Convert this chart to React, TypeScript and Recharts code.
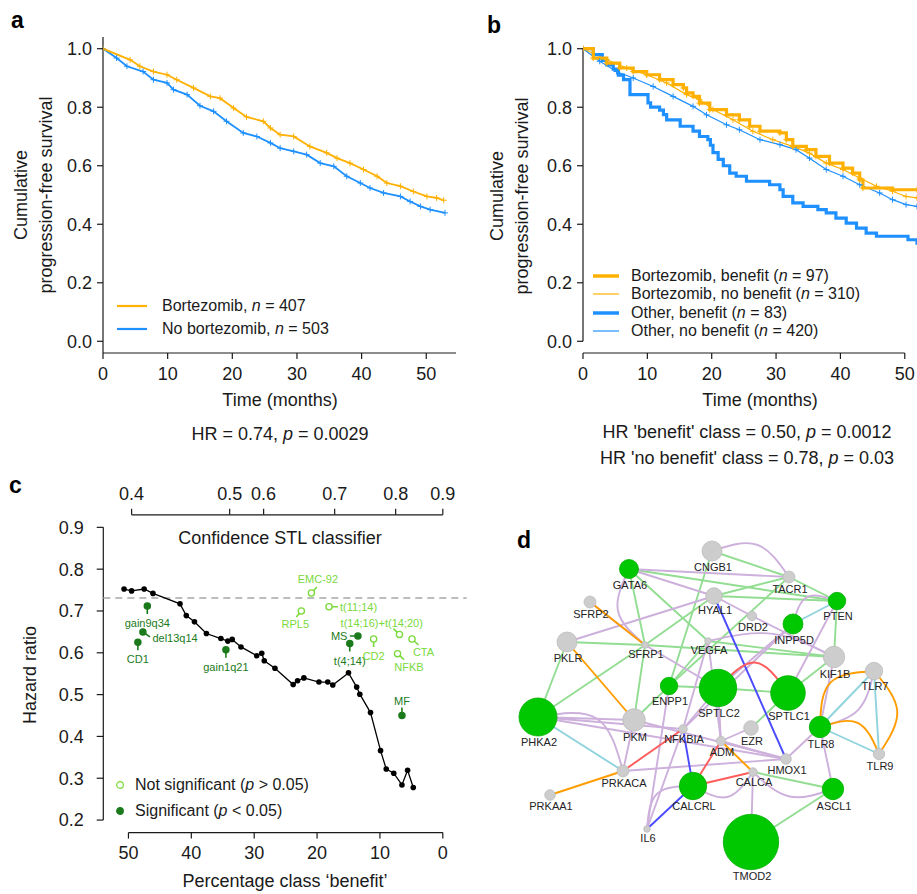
import React from 'react';
import {
  LineChart,
  ComposedChart,
  Line,
  Scatter,
  XAxis,
  YAxis,
  ReferenceLine,
  Legend,
} from 'recharts';

const FONT = '"Liberation Sans", Arial, Helvetica, sans-serif';
const INK = '#1a1a1a';
const ORANGE = '#ffb000';
const BLUE = '#1e90ff';
const DARK = '#1b7a1b';
const LIGHT = '#7ad93b';

// ---------- panel a: PFS, bortezomib vs not ----------
const aBortT = [0, 4.2, 5.7, 7.8, 9.9, 11.4, 14, 16.6, 18.1, 20.2, 22.2, 24.8, 25.9, 27.4, 29.5, 32, 34.6, 36.2, 38.2, 40.3, 42.4, 43.9, 46, 48, 50.1, 51.6, 52.7];
const aBortS = [1, 0.962, 0.94, 0.922, 0.911, 0.894, 0.866, 0.837, 0.831, 0.797, 0.767, 0.752, 0.729, 0.706, 0.7, 0.666, 0.644, 0.626, 0.609, 0.587, 0.564, 0.541, 0.53, 0.512, 0.495, 0.49, 0.482];
const aOtherT = [0, 2.1, 3.7, 6.2, 7.8, 9.9, 10.9, 13, 15, 17.1, 19.1, 21.7, 23.8, 25.9, 27.4, 29.5, 31.5, 33.6, 35.7, 37.7, 39.8, 41.3, 43.4, 46, 47.5, 49.1, 50.6, 52.9];
const aOtherS = [1, 0.968, 0.94, 0.922, 0.894, 0.883, 0.86, 0.843, 0.805, 0.786, 0.752, 0.712, 0.7, 0.678, 0.66, 0.649, 0.638, 0.609, 0.598, 0.564, 0.541, 0.524, 0.507, 0.495, 0.478, 0.461, 0.45, 0.439];
const aLegendNames = ['Bortezomib', 'No bortezomib'];
const aLegendN = [407, 503];

// ---------- panel b: split by benefit class ----------
const bBortBenT = [0, 1.6, 3.7, 5.7, 7.8, 9.9, 11.9, 14, 15.6, 16.1, 17.1, 18.1, 19.7, 22.3, 24.3, 25.9, 27.5, 30.6, 31.6, 32.6, 34.7, 36.2, 38.3, 40.4, 41.9, 43, 43.5, 48.1, 51.9];
const bBortBenS = [1, 0.968, 0.951, 0.934, 0.922, 0.911, 0.894, 0.877, 0.866, 0.849, 0.837, 0.814, 0.792, 0.774, 0.757, 0.735, 0.718, 0.712, 0.689, 0.666, 0.655, 0.632, 0.609, 0.592, 0.575, 0.552, 0.524, 0.518, 0.518];
const bBortNoT = [0, 3.7, 6.8, 9.9, 13, 16.1, 18.1, 20.2, 23.3, 26.4, 29.5, 32.6, 35.2, 37.8, 40.4, 43, 45.6, 48.1, 50.2, 51.9];
const bBortNoS = [1, 0.962, 0.934, 0.911, 0.883, 0.843, 0.826, 0.792, 0.757, 0.718, 0.689, 0.666, 0.643, 0.609, 0.587, 0.558, 0.53, 0.513, 0.495, 0.49];
const bOthBenT = [0, 1.6, 3.0, 3.7, 4.7, 5.5, 6.3, 7.3, 10.1, 10.5, 11.9, 12.5, 13, 15.1, 17.1, 18.1, 19.4, 19.8, 20.2, 21, 21.8, 22.8, 23.8, 25.4, 29, 30.6, 31.1, 32.6, 34.2, 36.5, 37.8, 39.3, 40.9, 42.5, 44, 45.6, 50.5, 51.9];
const bOthBenS = [1, 0.98, 0.96, 0.945, 0.93, 0.91, 0.894, 0.843, 0.815, 0.8, 0.79, 0.775, 0.757, 0.735, 0.718, 0.7, 0.689, 0.67, 0.645, 0.622, 0.6, 0.575, 0.564, 0.547, 0.535, 0.518, 0.495, 0.473, 0.461, 0.45, 0.439, 0.421, 0.404, 0.387, 0.37, 0.359, 0.347, 0.33];
const bOthNoT = [0, 2.6, 5.2, 7.8, 10.9, 14, 17.1, 19.2, 22.3, 24.3, 27.5, 30.6, 33.1, 35.2, 37.8, 40.4, 43, 46.1, 48.1, 50.2, 51.9];
const bOthNoS = [1, 0.957, 0.922, 0.9, 0.871, 0.837, 0.803, 0.774, 0.74, 0.723, 0.689, 0.672, 0.655, 0.626, 0.587, 0.564, 0.535, 0.507, 0.484, 0.467, 0.461];
const bLegendNames = ['Bortezomib, benefit', 'Bortezomib, no benefit', 'Other, benefit', 'Other, no benefit'];
const bLegendN = [97, 310, 83, 420];

const survTicks = [0, 0.2, 0.4, 0.6, 0.8, 1];
const timeTicks = [0, 10, 20, 30, 40, 50];

// ---------- panel c: hazard ratio vs class size ----------
const cPct = [50.7, 49.5, 47.5, 46.1, 41.8, 40.8, 39.5, 37.6, 35.3, 34.2, 33.5, 32.1, 29.6, 28.8, 28.4, 26.7, 23.8, 23.1, 22.1, 19.7, 18.3, 17.5, 15.0, 13.7, 13.2, 11.5, 9.9, 9.0, 7.8, 6.5, 5.6, 4.7];
const cHR = [0.7525, 0.748, 0.7525, 0.742, 0.717, 0.689, 0.674, 0.646, 0.634, 0.628, 0.632, 0.614, 0.593, 0.599, 0.581, 0.563, 0.524, 0.533, 0.54, 0.53, 0.53, 0.523, 0.552, 0.518, 0.501, 0.457, 0.366, 0.322, 0.312, 0.284, 0.319, 0.278];
const cRefHR = 0.731;
const markerNames = ['gain9q34', 'del13q14', 'CD1', 'gain1q21', 'MS', 't(4;14)', 'MF', 'EMC-92', 'RPL5', 't(11;14)', 't(14;16)+t(14;20)', 'CD2', 'CTA', 'NFKB'];
const markerPct = [47.0, 47.7, 48.5, 34.5, 13.5, 14.8, 6.5, 20.9, 22.5, 18.1, 6.9, 11.0, 4.9, 7.2];
const markerHR = [0.712, 0.65, 0.625, 0.607, 0.64, 0.622, 0.45, 0.743, 0.7, 0.71, 0.644, 0.633, 0.633, 0.598];
const markerSig = [true, true, true, true, true, true, true, false, false, false, false, false, false, false];
const markerPos = ['S', 'SE', 'S', 'S', 'W', 'S', 'N', 'NE', 'SW', 'E', 'NW', 'S', 'SE2', 'SE2'];
const hrTicks = [0.2, 0.3, 0.4, 0.5, 0.6, 0.7, 0.8, 0.9];
const pctTicks = [50, 40, 30, 20, 10, 0];
const confTickPos = [49.5, 33.9, 28.5, 17.2, 7.5, 0];
const confTickLabels = ['0.4', '0.5', '0.6', '0.7', '0.8', '0.9'];

// ---------- panel d: gene network ----------
const nodeNames = ['CNGB1', 'GATA6', 'TACR1', 'HYAL1', 'SFRP2', 'PTEN', 'DRD2', 'INPP5D', 'PKLR', 'SFRP1', 'VEGFA', 'KIF1B', 'TLR7', 'ENPP1', 'SPTLC2', 'SPTLC1', 'PHKA2', 'PKM', 'TLR8', 'EZR', 'NFKBIA', 'ADM', 'TLR9', 'HMOX1', 'PRKACA', 'CALCA', 'ASCL1', 'CALCRL', 'PRKAA1', 'IL6', 'TMOD2'];
const nodeX = [232, 149, 309, 234, 110, 357, 272, 313, 87, 165, 228, 354, 394, 189, 238, 308, 58, 154, 340, 271, 203, 241, 399, 306, 143, 273, 353, 213, 70, 167, 271];
const nodeY = [31, 49, 57, 76, 82, 81, 96, 104, 122, 125, 121, 137, 151, 166, 168, 173, 197, 200, 207, 208, 209, 221, 234, 239, 251, 252, 269, 266, 275, 309, 322];
const nodeSize = [10, 9.5, 6, 8.3, 6, 8.7, 4.7, 10, 10, 3.3, 3.3, 10.7, 8.7, 8.7, 18.7, 17.3, 19, 11.3, 10.7, 7.3, 4.3, 4.7, 5.7, 5.3, 6, 4.3, 10.7, 13.7, 5.3, 3.3, 27.7];
const nodeHit = [false, true, false, false, false, true, false, true, false, false, false, false, false, true, true, true, true, false, true, false, false, false, false, false, false, false, true, true, false, false, true];

const edges: [string, string, string][] = [
  ['CNGB1', 'TACR1', 'g'], ['CNGB1', 'ENPP1', 'g'], ['GATA6', 'PTEN', 'g'], ['GATA6', 'VEGFA', 'g'],
  ['GATA6', 'SFRP1', 'g'], ['HYAL1', 'TACR1', 'g'], ['HYAL1', 'PTEN', 'g'], ['TACR1', 'PTEN', 'g'],
  ['TACR1', 'ENPP1', 'g'], ['SFRP1', 'HYAL1', 'g'], ['PKLR', 'SFRP1', 'g'], ['SFRP1', 'KIF1B', 'g'],
  ['VEGFA', 'KIF1B', 'g'], ['PTEN', 'KIF1B', 'g'], ['PHKA2', 'PKLR', 'g'], ['PHKA2', 'SFRP1', 'g'],
  ['SFRP1', 'PKM', 'g'], ['VEGFA', 'ENPP1', 'g'], ['ENPP1', 'PKM', 'g'], ['ENPP1', 'SPTLC2', 'g'],
  ['SPTLC2', 'SPTLC1', 'g'], ['SPTLC1', 'KIF1B', 'g'], ['SPTLC1', 'EZR', 'g'], ['CALCA', 'ASCL1', 'g'],
  ['ASCL1', 'TMOD2', 'g'],
  ['CNGB1', 'TACR1', 'l'], ['GATA6', 'TACR1', 'l'], ['GATA6', 'HYAL1', 'l'], ['GATA6', 'SFRP1', 'l'],
  ['PKLR', 'HYAL1', 'l'], ['SFRP2', 'SFRP1', 'l'], ['HYAL1', 'DRD2', 'l'], ['DRD2', 'KIF1B', 'l'],
  ['VEGFA', 'KIF1B', 'l'], ['VEGFA', 'NFKBIA', 'l'], ['VEGFA', 'ADM', 'l'], ['INPP5D', 'PTEN', 'l'],
  ['SPTLC1', 'PTEN', 'l'], ['SPTLC2', 'INPP5D', 'l'], ['NFKBIA', 'INPP5D', 'l'], ['SFRP1', 'SPTLC2', 'l'],
  ['PHKA2', 'PKM', 'l'], ['PHKA2', 'NFKBIA', 'l'], ['PHKA2', 'HMOX1', 'l'], ['PHKA2', 'PRKACA', 'l'],
  ['PKM', 'PRKACA', 'l'], ['PKM', 'HMOX1', 'l'], ['PRKACA', 'HMOX1', 'l'], ['NFKBIA', 'SPTLC2', 'l'],
  ['NFKBIA', 'IL6', 'l'], ['ENPP1', 'IL6', 'l'], ['IL6', 'CALCRL', 'l'], ['ADM', 'SPTLC2', 'l'],
  ['ADM', 'EZR', 'l'], ['ADM', 'HMOX1', 'l'], ['CALCRL', 'CALCA', 'l'], ['CALCA', 'ASCL1', 'l'],
  ['CALCA', 'TMOD2', 'l'], ['HMOX1', 'TLR8', 'l'], ['TLR8', 'KIF1B', 'l'], ['TLR8', 'ASCL1', 'l'],
  ['TLR8', 'TLR7', 'l'],
  ['SFRP2', 'SFRP1', 'o'], ['PKLR', 'PKM', 'o'], ['PRKAA1', 'PRKACA', 'o'], ['ADM', 'CALCA', 'o'],
  ['TLR8', 'TLR7', 'o'], ['TLR8', 'TLR9', 'o'], ['TLR7', 'TLR9', 'o'],
  ['PHKA2', 'PRKACA', 'c'], ['INPP5D', 'PTEN', 'c'], ['TLR8', 'TLR7', 'c'], ['TLR8', 'TLR9', 'c'], ['TLR7', 'TLR9', 'c'],
  ['HYAL1', 'HMOX1', 'b'], ['NFKBIA', 'CALCRL', 'b'], ['CALCRL', 'IL6', 'b'],
  ['SPTLC2', 'SPTLC1', 'r'], ['PRKACA', 'NFKBIA', 'r'], ['ADM', 'CALCRL', 'r'], ['CALCRL', 'CALCA', 'r'],
];

// styling of the network
const edgeColor: Record<string, string> = {
  g: '#92dd92', l: '#cdb0dc', o: '#ff9d00', c: '#8fd3dd', b: '#4a4aff', r: '#ff5c5c',
};
const edgeBend: Record<string, number> = {
  'CNGB1-TACR1-l': -0.25, 'SPTLC2-SPTLC1-r': -0.4, 'INPP5D-PTEN-l': -0.35, 'PHKA2-PRKACA-l': -0.3,
  'TLR8-TLR7-o': -0.3, 'TLR8-TLR7-l': 0.2, 'TLR8-TLR9-o': -0.3, 'TLR7-TLR9-o': -0.25,
  'CALCRL-CALCA-l': 0.3, 'CALCA-ASCL1-l': 0.2, 'IL6-CALCRL-l': -0.3, 'VEGFA-KIF1B-l': -0.12,
  'GATA6-SFRP1-l': 0.25,
};
const markerPlace: Record<string, { sx: number; sy: number; lx: number; ly: number; anchor: string }> = {
  S: { sx: 0, sy: 8, lx: 0, ly: 17, anchor: 'middle' },
  SE: { sx: 7, sy: 5, lx: 9.5, ly: 6.5, anchor: 'start' },
  W: { sx: -8, sy: 0, lx: -10.5, ly: 0, anchor: 'end' },
  N: { sx: 0, sy: -8, lx: 0, ly: -15, anchor: 'middle' },
  NE: { sx: 5.5, sy: -6, lx: 6.5, ly: -13.7, anchor: 'middle' },
  SW: { sx: -5, sy: 6, lx: -6, ly: 12.7, anchor: 'middle' },
  E: { sx: 9, sy: 0, lx: 11, ly: 0, anchor: 'start' },
  NW: { sx: -6, sy: -5.7, lx: -17.7, ly: -11.7, anchor: 'middle' },
  SE2: { sx: 6.5, sy: 6, lx: 11.5, ly: 13.5, anchor: 'middle' },
};

const pts = (t: number[], s: number[]) => t.map((x, i) => ({ x, y: s[i] }));

const axisStroke = { stroke: INK, strokeWidth: 1.2 };
const tickStyle = { fontSize: 18, fill: INK, fontFamily: FONT };

const censor = (color: string) => (p: any) => {
  const { cx, cy, index } = p;
  if (cx == null || cy == null) return <g key={`c${index}`} />;
  return (
    <path
      key={`c${index}`}
      d={`M${cx - 3},${cy}h6M${cx},${cy - 3}v6`}
      stroke={color}
      strokeWidth={1}
      fill="none"
    />
  );
};

const survLabel = (x1: number, x2: number, cy: number) => () => (
  <g fontFamily={FONT} fontSize={18} fill={INK}>
    <text x={x1} y={cy} transform={`rotate(-90 ${x1} ${cy})`} textAnchor="middle" dominantBaseline="central">
      Cumulative
    </text>
    <text x={x2} y={cy} transform={`rotate(-90 ${x2} ${cy})`} textAnchor="middle" dominantBaseline="central">
      progression-free survival
    </text>
  </g>
);

const legendRow = (color: string, width: number, lineLen: number, gap: number, h: number, label: React.ReactNode, key: number) => (
  <div key={key} style={{ display: 'flex', alignItems: 'center', height: h }}>
    <svg width={lineLen} height={6} style={{ display: 'block' }}>
      <line x1={0} y1={3} x2={lineLen} y2={3} stroke={color} strokeWidth={width} />
    </svg>
    <span style={{ marginLeft: gap, whiteSpace: 'nowrap' }}>{label}</span>
  </div>
);

function PanelA() {
  const legend = () => (
    <div style={{ fontFamily: FONT, fontSize: 16, color: INK }}>
      {aLegendNames.map((nm, i) =>
        legendRow(i === 0 ? ORANGE : BLUE, 2.2, 30, 15, 23, <>{nm}, <i>n</i> = {aLegendN[i]}</>, i)
      )}
    </div>
  );
  const xLabel = () => (
    <g fontFamily={FONT} fontSize={18} fill={INK} textAnchor="middle">
      <text x={280} y={406}>Time (months)</text>
      <text x={280} y={439.5}>
        HR = 0.74, <tspan fontStyle="italic">p</tspan> = 0.0029
      </text>
    </g>
  );
  return (
    <div style={{ position: 'absolute', left: 0, top: 0 }}>
      <LineChart width={460} height={470} margin={{ top: 37, right: 4, bottom: 57, left: 0 }}>
        <XAxis
          type="number"
          dataKey="x"
          domain={[0, 54.6]}
          allowDataOverflow
          ticks={timeTicks}
          interval={0}
          height={60}
          tick={tickStyle}
          tickSize={6}
          tickMargin={8}
          axisLine={axisStroke}
          tickLine={axisStroke}
          label={xLabel}
        />
        <YAxis
          type="number"
          domain={[-0.04, 1.04]}
          allowDataOverflow
          ticks={survTicks}
          interval={0}
          width={103}
          tick={tickStyle}
          tickSize={6}
          tickMargin={5}
          tickFormatter={(v: number) => v.toFixed(1)}
          axisLine={axisStroke}
          tickLine={axisStroke}
          label={survLabel(20.5, 45.5, 195)}
        />
        <Line data={pts(aOtherT, aOtherS)} dataKey="y" type="linear" stroke={BLUE} strokeWidth={1.8} dot={censor(BLUE)} activeDot={false} isAnimationActive={false} />
        <Line data={pts(aBortT, aBortS)} dataKey="y" type="linear" stroke={ORANGE} strokeWidth={1.8} dot={censor(ORANGE)} activeDot={false} isAnimationActive={false} />
        <Legend
          layout="vertical"
          align="center"
          verticalAlign="middle"
          content={legend}
          wrapperStyle={{ left: 117, top: 294.5, width: 'auto', height: 'auto', margin: 0 }}
        />
      </LineChart>
    </div>
  );
}

function PanelB() {
  const colors = [ORANGE, ORANGE, BLUE, BLUE];
  const widths = [3.5, 1.2, 3.5, 1.2];
  const legend = () => (
    <div style={{ fontFamily: FONT, fontSize: 16, color: INK }}>
      {bLegendNames.map((nm, i) =>
        legendRow(colors[i], widths[i], 26, 12, 18.3, <>{nm} (<i>n</i> = {bLegendN[i]})</>, i)
      )}
    </div>
  );
  const xLabel = () => (
    <g fontFamily={FONT} fontSize={18} fill={INK} textAnchor="middle">
      <text x={300} y={406}>Time (months)</text>
      <text x={287} y={437.5}>
        HR 'benefit' class = 0.50, <tspan fontStyle="italic">p</tspan> = 0.0012
      </text>
      <text x={287} y={463.5}>
        HR 'no benefit' class = 0.78, <tspan fontStyle="italic">p</tspan> = 0.03
      </text>
    </g>
  );
  return (
    <div style={{ position: 'absolute', left: 460, top: 0 }}>
      <LineChart width={457} height={470} margin={{ top: 37, right: 0, bottom: 57, left: 0 }}>
        <XAxis
          type="number"
          dataKey="x"
          domain={[0, 51.9]}
          allowDataOverflow
          ticks={timeTicks}
          interval={0}
          height={60}
          tick={tickStyle}
          tickSize={6}
          tickMargin={8}
          axisLine={false}
          tickLine={axisStroke}
          label={xLabel}
        />
        <YAxis
          type="number"
          domain={[-0.04, 1.04]}
          allowDataOverflow
          ticks={survTicks}
          interval={0}
          width={123}
          tick={tickStyle}
          tickSize={6}
          tickMargin={5}
          tickFormatter={(v: number) => v.toFixed(1)}
          axisLine={false}
          tickLine={axisStroke}
          label={survLabel(36.7, 61.7, 196)}
        />
        <ReferenceLine segment={[{ x: 0, y: -0.04 }, { x: 50, y: -0.04 }]} stroke={INK} strokeWidth={1.2} ifOverflow="visible" />
        <ReferenceLine segment={[{ x: 0, y: 0 }, { x: 0, y: 1 }]} stroke={INK} strokeWidth={1.2} ifOverflow="visible" />
        <Line data={pts(bOthNoT, bOthNoS)} dataKey="y" type="linear" stroke={BLUE} strokeWidth={1.2} dot={censor(BLUE)} activeDot={false} isAnimationActive={false} />
        <Line data={pts(bBortNoT, bBortNoS)} dataKey="y" type="linear" stroke={ORANGE} strokeWidth={1.2} dot={censor(ORANGE)} activeDot={false} isAnimationActive={false} />
        <Line data={pts(bOthBenT, bOthBenS)} dataKey="y" type="stepAfter" stroke={BLUE} strokeWidth={3.2} dot={false} activeDot={false} isAnimationActive={false} />
        <Line data={pts(bBortBenT, bBortBenS)} dataKey="y" type="stepAfter" stroke={ORANGE} strokeWidth={3.2} dot={censor(ORANGE)} activeDot={false} isAnimationActive={false} />
        <Legend
          layout="vertical"
          align="center"
          verticalAlign="middle"
          content={legend}
          wrapperStyle={{ left: 133, top: 266.8, width: 'auto', height: 'auto', margin: 0 }}
        />
      </LineChart>
    </div>
  );
}

function PanelC() {
  const lineData = pts(cPct, cHR);
  const markers = markerNames.map((name, i) => ({
    name,
    x: markerPct[i],
    y: markerHR[i],
    sig: markerSig[i],
    pos: markerPos[i],
  }));
  const markerShape = (p: any) => {
    const { cx, cy, payload } = p;
    const pl = markerPlace[payload.pos];
    const col = payload.sig ? DARK : LIGHT;
    return (
      <g>
        <line x1={cx} y1={cy} x2={cx + pl.sx} y2={cy + pl.sy} stroke={col} strokeWidth={1.6} />
        <circle cx={cx} cy={cy} r={3.1} fill={payload.sig ? DARK : '#fff'} stroke={col} strokeWidth={1.3} />
        <text
          x={cx + pl.lx}
          y={cy + pl.ly}
          textAnchor={pl.anchor}
          dominantBaseline="central"
          fontFamily={FONT}
          fontSize={11}
          fill={col}
        >
          {payload.name}
        </text>
      </g>
    );
  };
  const legend = () => (
    <div style={{ fontFamily: FONT, fontSize: 16, color: INK }}>
      {['Not significant', 'Significant'].map((nm, i) => (
        <div key={i} style={{ display: 'flex', alignItems: 'center', height: 25.7 }}>
          <svg width={10} height={10} style={{ display: 'block' }}>
            <circle cx={5} cy={5} r={3.3} fill={i === 0 ? '#fff' : DARK} stroke={i === 0 ? LIGHT : DARK} strokeWidth={1.2} />
          </svg>
          <span style={{ marginLeft: 10, whiteSpace: 'nowrap' }}>
            {nm} (<i>p</i> {i === 0 ? '>' : '<'} 0.05)
          </span>
        </div>
      ))}
    </div>
  );
  const yLabel = () => (
    <text x={30} y={205} transform="rotate(-90 30 205)" textAnchor="middle" dominantBaseline="central" fontFamily={FONT} fontSize={18} fill={INK}>
      Hazard ratio
    </text>
  );
  const xLabel = () => (
    <text x={285} y={417} textAnchor="middle" fontFamily={FONT} fontSize={18} fill={INK}>
      Percentage class ‘benefit’
    </text>
  );
  const topLabel = () => (
    <text x={280} y={74} textAnchor="middle" fontFamily={FONT} fontSize={18} fill={INK}>
      Confidence STL classifier
    </text>
  );
  return (
    <div style={{ position: 'absolute', left: 0, top: 470 }}>
      <ComposedChart width={470} height={424} margin={{ top: 14.8, right: 3.3, bottom: 11.4, left: 0 }}>
        <XAxis
          type="number"
          dataKey="x"
          domain={[-3.8, 54]}
          reversed
          allowDataOverflow
          ticks={pctTicks}
          interval={0}
          height={50}
          tick={tickStyle}
          tickSize={6}
          tickMargin={8}
          axisLine={false}
          tickLine={axisStroke}
          label={xLabel}
        />
        <XAxis
          xAxisId="top"
          orientation="top"
          type="number"
          dataKey="x"
          domain={[-3.8, 54]}
          reversed
          allowDataOverflow
          ticks={confTickPos}
          interval={0}
          height={30}
          tick={tickStyle}
          tickSize={6}
          tickMargin={9}
          tickFormatter={(v: number) => confTickLabels[confTickPos.indexOf(v)]}
          axisLine={false}
          tickLine={axisStroke}
          label={topLabel}
        />
        <YAxis
          type="number"
          dataKey="y"
          domain={[0.17, 0.93]}
          allowDataOverflow
          ticks={hrTicks}
          interval={0}
          width={103.3}
          tick={tickStyle}
          tickSize={6.6}
          tickMargin={13}
          tickFormatter={(v: number) => v.toFixed(1)}
          axisLine={false}
          tickLine={axisStroke}
          label={yLabel}
        />
        <ReferenceLine segment={[{ x: 54, y: 0.2 }, { x: 54, y: 0.9 }]} stroke={INK} strokeWidth={1.2} ifOverflow="visible" />
        <ReferenceLine segment={[{ x: 50, y: 0.17 }, { x: 0, y: 0.17 }]} stroke={INK} strokeWidth={1.2} ifOverflow="visible" />
        <ReferenceLine segment={[{ x: 49.5, y: 0.93 }, { x: 0, y: 0.93 }]} stroke={INK} strokeWidth={1.2} ifOverflow="visible" />
        <ReferenceLine y={cRefHR} stroke="#a6a6a6" strokeWidth={1.3} strokeDasharray="7 5" />
        <Line data={lineData} dataKey="y" type="linear" stroke="#000" strokeWidth={1.3} dot={{ r: 2.8, fill: '#000', stroke: 'none' }} activeDot={false} isAnimationActive={false} />
        <Scatter data={markers} dataKey="y" shape={markerShape} isAnimationActive={false} />
        <Legend
          layout="vertical"
          align="center"
          verticalAlign="middle"
          content={legend}
          wrapperStyle={{ left: 115, top: 302, width: 'auto', height: 'auto', margin: 0 }}
        />
      </ComposedChart>
    </div>
  );
}

function PanelD() {
  const nodes = nodeNames.map((name, i) => ({
    name,
    x: nodeX[i],
    y: nodeY[i],
    r: nodeSize[i],
    hit: nodeHit[i],
  }));
  const byName: Record<string, { x: number; y: number }> = {};
  nodes.forEach((n) => (byName[n.name] = n));
  const edgeLines = edges.map(([a, b, k]) => {
    const p = byName[a];
    const q = byName[b];
    const bend = edgeBend[`${a}-${b}-${k}`] || 0;
    if (!bend) return { k, bend, data: [{ x: p.x, y: p.y }, { x: q.x, y: q.y }] };
    const dx = q.x - p.x;
    const dy = q.y - p.y;
    const mid = { x: (p.x + q.x) / 2 - bend * dy, y: (p.y + q.y) / 2 + bend * dx };
    return { k, bend, data: [{ x: p.x, y: p.y }, mid, { x: q.x, y: q.y }] };
  });
  const nodeShape = (p: any) => {
    const { cx, cy, payload } = p;
    return (
      <circle
        cx={cx}
        cy={cy}
        r={payload.r}
        fill={payload.hit ? '#00c800' : '#cdcdcd'}
        stroke={payload.hit ? '#00b000' : '#bcbcbc'}
        strokeWidth={0.8}
      />
    );
  };
  const labelShape = (p: any) => {
    const { cx, cy, payload } = p;
    return (
      <text
        x={cx + 1}
        y={cy + payload.r + 10}
        textAnchor="middle"
        fontFamily={FONT}
        fontSize={11}
        fill="#222"
      >
        {payload.name}
      </text>
    );
  };
  return (
    <div style={{ position: 'absolute', left: 480, top: 520 }}>
      <ComposedChart width={437} height={374} margin={{ top: 0, right: 0, bottom: 0, left: 0 }}>
        <XAxis type="number" dataKey="x" domain={[0, 437]} allowDataOverflow hide />
        <YAxis type="number" dataKey="y" domain={[0, 374]} reversed allowDataOverflow hide />
        {edgeLines.map((e, i) => (
          <Line
            key={`e${i}`}
            data={e.data}
            dataKey="y"
            type={e.bend ? 'natural' : 'linear'}
            stroke={edgeColor[e.k]}
            strokeWidth={1.9}
            dot={false}
            activeDot={false}
            isAnimationActive={false}
          />
        ))}
        <Scatter data={nodes} dataKey="y" shape={nodeShape} isAnimationActive={false} />
        <Scatter data={nodes} dataKey="y" shape={labelShape} isAnimationActive={false} />
      </ComposedChart>
    </div>
  );
}

const letterStyle = (left: number, top: number): React.CSSProperties => ({
  position: 'absolute',
  left,
  top,
  fontFamily: FONT,
  fontWeight: 'bold',
  fontSize: 23,
  lineHeight: '23px',
  color: '#000',
});

export default function App() {
  return (
    <div
      style={{
        position: 'absolute',
        left: 0,
        top: 0,
        width: 917,
        height: 894,
        overflow: 'hidden',
        background: '#fff',
        fontFamily: FONT,
      }}
    >
      <PanelA />
      <PanelB />
      <PanelC />
      <PanelD />
      <div style={letterStyle(11, 8.5)}>a</div>
      <div style={letterStyle(487, 13.5)}>b</div>
      <div style={letterStyle(9, 473.5)}>c</div>
      <div style={letterStyle(517, 528.5)}>d</div>
    </div>
  );
}
